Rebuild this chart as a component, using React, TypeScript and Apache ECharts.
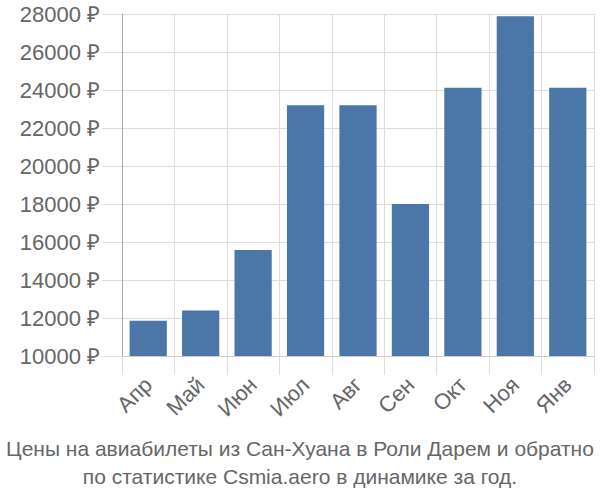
import React, { useEffect, useRef } from "react";
import * as echarts from "echarts";

const categories = ["Апр", "Май", "Июн", "Июл", "Авг", "Сен", "Окт", "Ноя", "Янв"];
const prices = [11850, 12400, 15580, 23200, 23200, 18000, 24120, 27880, 24120];
const titleLines = [
  "Цены на авиабилеты из Сан-Хуана в Роли Дарем и обратно",
  "по статистике Csmia.aero в динамике за год.",
];

const FONT = "'Liberation Sans', Arial, sans-serif";

export default function App() {
  const ref = useRef<HTMLDivElement>(null);
  useEffect(() => {
    if (!ref.current) return;
    const chart = echarts.init(ref.current, undefined, { renderer: "svg" });
    chart.setOption({
      animation: false,
      textStyle: { fontFamily: FONT },
      title: {
        text: titleLines.join("\n"),
        left: "center",
        top: 429,
        textStyle: {
          fontFamily: FONT,
          fontSize: 21,
          fontWeight: "normal",
          color: "#666",
          lineHeight: 28,
        },
      },
      grid: { left: 122, right: 6, top: 14, bottom: 144 },
      xAxis: {
        type: "category",
        data: categories,
        axisLine: { show: true, lineStyle: { color: "#ccc" } },
        axisTick: { show: true, length: 19, lineStyle: { color: "#ddd" } },
        splitLine: { show: true, lineStyle: { color: "#ddd" } },
        axisLabel: { rotate: 45, fontSize: 22, color: "#666", margin: 25, fontFamily: FONT },
      },
      yAxis: {
        type: "value",
        min: 10000,
        max: 28000,
        interval: 2000,
        axisLine: { show: true, lineStyle: { color: "#aaa" } },
        axisTick: { show: true, length: 20, lineStyle: { color: "#ddd" } },
        splitLine: { show: true, lineStyle: { color: "#ddd" } },
        axisLabel: { fontSize: 22, color: "#666", margin: 22, fontFamily: FONT, formatter: (v: number) => `${v} ₽` },
      },
      series: [
        {
          type: "bar",
          data: prices,
          barWidth: "71%",
          itemStyle: { color: "#4a76a8" },
        },
      ],
    });
    return () => chart.dispose();
  }, []);
  return <div ref={ref} style={{ width: 600, height: 500, position: "absolute", left: 0, top: 0 }} />;
}
